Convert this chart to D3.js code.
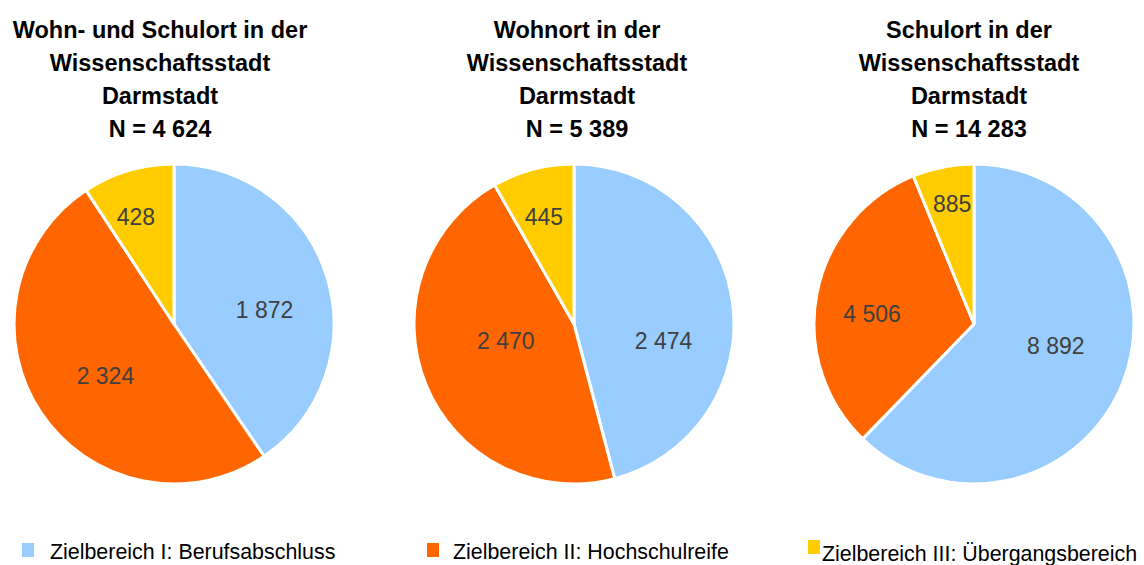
<!DOCTYPE html>
<html>
<head>
<meta charset="utf-8">
<script src="https://cdn.jsdelivr.net/npm/d3@7"></script>
<style>
  body { margin: 0; background: #fff; }
  svg { display: block; font-family: "Liberation Sans", Arial, sans-serif; }
</style>
</head>
<body>
<script>
const width = 1144, height = 565;

// categories and values
const categories = ["Zielbereich I: Berufsabschluss", "Zielbereich II: Hochschulreife", "Zielbereich III: Übergangsbereich"];
const colors = ["#99ccff", "#ff6600", "#ffcc00"];
const titles = [
  ["Wohn- und Schulort in der", "Wissenschaftsstadt", "Darmstadt", "N = 4 624"],
  ["Wohnort in der", "Wissenschaftsstadt", "Darmstadt", "N = 5 389"],
  ["Schulort in der", "Wissenschaftsstadt", "Darmstadt", "N = 14 283"]
];
const wohnUndSchulort = [1872, 2324, 428];
const wohnort = [2474, 2470, 445];
const schulort = [8892, 4506, 885];
const series = [wohnUndSchulort, wohnort, schulort];

// label placement as in the original (radius factor, angle shift in degrees from the slice middle)
const labelLayout = [
  [[0.573, 8], [0.538, -3.4], [0.71, -2.9]],
  [[0.57, 18], [0.44, 8], [0.695, -0.8]],
  [[0.53, -7], [0.64, -5.4], [0.76, 0.8]]
];

const centersX = [174, 574, 974];
const titleX = [160, 577, 969];
const cy = 324, radius = 160;

const fmt = v => d3.format(",d")(v).replace(/,/g, " ");

const svg = d3.select("body").append("svg")
  .attr("width", width).attr("height", height);

const pie = d3.pie().sort(null).value(d => d);
const arc = d3.arc().innerRadius(0).outerRadius(radius);

series.forEach((vals, i) => {
  const g = svg.append("g").attr("transform", `translate(${centersX[i]},${cy})`);
  const arcs = pie(vals);

  g.selectAll("path").data(arcs).join("path")
    .attr("d", arc)
    .attr("fill", (d, j) => colors[j])
    .attr("stroke", "#fff")
    .attr("stroke-width", 3)
    .attr("stroke-linejoin", "round");

  g.selectAll("text.lbl").data(arcs).join("text")
    .attr("class", "lbl")
    .attr("transform", (d, j) => {
      const [f, shift] = labelLayout[i][j];
      const r = radius * f;
      const a = (d.startAngle + d.endAngle) / 2 + shift * Math.PI / 180;
      return `translate(${Math.sin(a) * r},${-Math.cos(a) * r})`;
    })
    .attr("text-anchor", "middle")
    .attr("dy", "0.35em")
    .attr("fill", "#404040")
    .style("font-size", "23px")
    .text(d => fmt(d.value));

  svg.append("text")
    .attr("x", titleX[i])
    .attr("y", 38)
    .attr("text-anchor", "middle")
    .style("font-size", "23.5px")
    .style("font-weight", "bold")
    .attr("fill", "#000")
    .selectAll("tspan").data(titles[i]).join("tspan")
      .attr("x", titleX[i])
      .attr("dy", (d, k) => k === 0 ? 0 : 33)
      .text(d => d);
});

// legend
const legendX = [22, 427, 808];
const legendTextX = [50, 453, 822];
const legend = svg.append("g");
categories.forEach((c, i) => {
  legend.append("rect")
    .attr("x", legendX[i]).attr("y", i === 2 ? 540 : 543)
    .attr("width", 12).attr("height", 14)
    .attr("fill", colors[i]);
  legend.append("text")
    .attr("x", legendTextX[i]).attr("y", i === 2 ? 561 : 559)
    .style("font-size", "21.4px")
    .attr("fill", "#000")
    .text(c);
});
</script>
</body>
</html>
